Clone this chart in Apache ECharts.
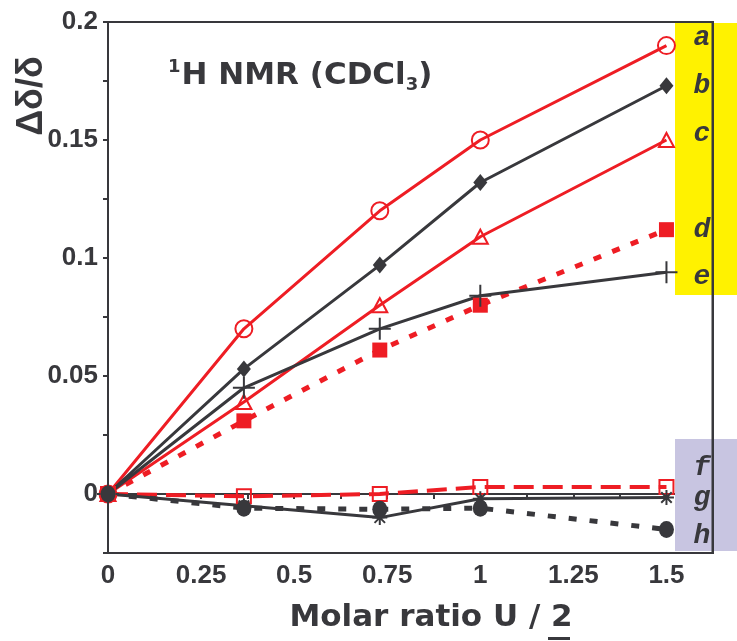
<!DOCTYPE html>
<html>
<head>
<meta charset="utf-8">
<script src="https://cdn.jsdelivr.net/npm/echarts@6/dist/echarts.min.js"></script>
<style>html,body{margin:0;padding:0;background:#fff}#c{width:737px;height:641px}</style>
</head>
<body>
<div id="c"></div>
<script>
// ---- data ----
const xVals   = [0, 0.365, 0.73, 1.0, 1.5];
const seriesA = [0, 0.070, 0.120, 0.150, 0.190];
const seriesB = [0, 0.053, 0.097, 0.132, 0.173];
const seriesC = [0, 0.039, 0.080, 0.109, 0.150];
const seriesD = [0, 0.031, 0.061, 0.080, 0.112];
const seriesE = [0, 0.045, 0.070, 0.084, 0.094];
const seriesF = [0, -0.001, 0.000, 0.003, 0.003];
const seriesG = [0, -0.005, -0.010, -0.002, -0.0015];
const seriesH = [0, -0.006, -0.0065, -0.006, -0.015];
const xTickLabels = ['0', '0.25', '0.5', '0.75', '1', '1.25', '1.5'];
const yTickLabels = ['0', '0.05', '0.1', '0.15', '0.2'];
const seriesNames = ['a', 'b', 'c', 'd', 'e', 'f', 'g', 'h'];

const RED = '#EE1D24';
const DARK = '#38383C';
const pts = ys => xVals.map((x, i) => [x, ys[i]]);
const isMult = (v, s) => Math.abs(v / s - Math.round(v / s)) < 1e-6;

const PLUS = 'path://M0,10L20,10M10,0L10,20';
const AST = 'path://M0,10L20,10M10,0L10,20M3,3L17,17M17,3L3,17';

function mk(name, ys, opt) {
  return Object.assign({
    name: name, type: 'line', data: pts(ys), showSymbol: true,
    animation: false, z: 3
  }, opt);
}

const chart = echarts.init(document.getElementById('c'), null, {renderer: 'canvas'});
chart.setOption({
  animation: false,
  grid: {left: 108, right: 24, top: 22, bottom: 88, show: true, borderColor: DARK, borderWidth: 2, backgroundColor: 'transparent'},
  xAxis: {
    type: 'value', min: 0, max: 1.625, interval: 0.125,
    axisLine: {lineStyle: {color: DARK, width: 2}},
    axisTick: {show: true, length: 5, lineStyle: {color: DARK, width: 2}},
    splitLine: {show: false},
    axisLabel: {
      fontFamily: 'Liberation Sans, Arial', fontWeight: 'bold', fontSize: 26, color: DARK, margin: 10,
      showMaxLabel: false,
      formatter: v => {
        if (!isMult(v, 0.25)) return '';
        const i = Math.round(v / 0.25);
        return xTickLabels[i] !== undefined ? xTickLabels[i] : '';
      }
    }
  },
  yAxis: {
    type: 'value', min: -0.025, max: 0.2, interval: 0.025,
    axisLine: {show: true, lineStyle: {color: DARK, width: 2}},
    axisTick: {show: true, length: 5, lineStyle: {color: DARK, width: 2}},
    splitLine: {show: false},
    axisLabel: {
      fontFamily: 'Liberation Sans, Arial', fontWeight: 'bold', fontSize: 26, color: DARK, margin: 10,
      formatter: v => {
        if (v < -1e-9 || !isMult(v, 0.05)) return '';
        const i = Math.round(v / 0.05);
        return yTickLabels[i] !== undefined ? yTickLabels[i] : '';
      }
    }
  },
  graphic: {
    elements: [
      {type: 'rect', silent: true, z: 1, shape: {x: 675, y: 23, width: 62, height: 272}, style: {fill: '#FFF200'}},
      {type: 'rect', silent: true, z: 1, shape: {x: 675, y: 439, width: 62, height: 112}, style: {fill: '#C8C5E1'}},
      {type: 'rect', silent: true, z: 50, z2: 50, shape: {x: 711.5, y: 21, width: 2.5, height: 533}, style: {fill: DARK}},
      {type: 'text', x: 32, y: 96, rotation: Math.PI / 2, style: {
        text: 'Δδ/δ', fontFamily: 'Liberation Sans, Arial', fontWeight: 'bold', fontSize: 36, fill: DARK,
        textAlign: 'center', textVerticalAlign: 'middle'}},
      {type: 'text', x: 168, y: 76, style: {
        text: '{sup|1}{m|H NMR (CDCl}{sub|3}{m|)}', textVerticalAlign: 'middle', fill: DARK,
        rich: {
          m: {fontFamily: 'DejaVu Sans', fontWeight: 'bold', fontSize: 31, fill: DARK, lineHeight: 36},
          sup: {fontFamily: 'DejaVu Sans', fontWeight: 'bold', fontSize: 18, fill: DARK, verticalAlign: 'top', lineHeight: 36, padding: [0, 1, 10, 0]},
          sub: {fontFamily: 'DejaVu Sans', fontWeight: 'bold', fontSize: 18, fill: DARK, verticalAlign: 'bottom', lineHeight: 36, padding: [10, 0, 0, 0]}
        }}},
      {type: 'text', x: 431, y: 618, style: {
        text: 'Molar ratio U / 2', fontFamily: 'DejaVu Sans', fontWeight: 'bold', fontSize: 31, fill: DARK,
        textAlign: 'center', textVerticalAlign: 'middle'}},
      {type: 'rect', silent: true, shape: {x: 548, y: 637, width: 22, height: 3}, style: {fill: DARK}},
      ...[['a', 38], ['b', 86], ['c', 134], ['d', 230], ['e', 277], ['f', 468], ['g', 498], ['h', 536]].map(([t, y]) => ({
        type: 'text', x: 702, y: y, z: 60, style: {
          text: t, fontFamily: 'Liberation Mono, Courier New', fontWeight: 'bold', fontStyle: 'italic', fontSize: 28,
          fill: DARK, textAlign: 'center', textVerticalAlign: 'middle'}
      }))
    ]
  },
  series: [
    mk(seriesNames[0], seriesA, {symbol: 'circle', symbolSize: 17,
      itemStyle: {color: 'rgba(255,255,255,0)', borderColor: RED, borderWidth: 2},
      lineStyle: {color: RED, width: 3}}),
    mk(seriesNames[1], seriesB, {symbol: 'diamond', symbolSize: [14, 17],
      itemStyle: {color: DARK, borderColor: DARK, borderWidth: 0},
      lineStyle: {color: DARK, width: 3}}),
    mk(seriesNames[2], seriesC, {symbol: 'triangle', symbolSize: [15, 14],
      itemStyle: {color: 'rgba(255,255,255,0)', borderColor: RED, borderWidth: 2},
      lineStyle: {color: RED, width: 3}}),
    mk(seriesNames[3], seriesD, {symbol: 'rect', symbolSize: 15,
      itemStyle: {color: RED, borderWidth: 0},
      lineStyle: {color: RED, width: 5, type: [8, 12]}}),
    mk(seriesNames[4], seriesE, {symbol: PLUS, symbolSize: 22,
      itemStyle: {color: 'rgba(0,0,0,0)', borderColor: DARK, borderWidth: 2},
      lineStyle: {color: DARK, width: 3}}),
    mk(seriesNames[5], seriesF, {symbol: 'rect', symbolSize: 14,
      itemStyle: {color: 'rgba(255,255,255,0)', borderColor: RED, borderWidth: 2},
      lineStyle: {color: RED, width: 4, type: [20, 9]}}),
    mk(seriesNames[6], seriesG, {symbol: AST, symbolSize: 15,
      itemStyle: {color: 'rgba(0,0,0,0)', borderColor: DARK, borderWidth: 2},
      lineStyle: {color: DARK, width: 3}}),
    mk(seriesNames[7], seriesH, {symbol: 'circle', symbolSize: [15, 17],
      itemStyle: {color: DARK, borderWidth: 0},
      lineStyle: {color: DARK, width: 5, type: [8, 13]}})
  ]
});
</script>
</body>
</html>
